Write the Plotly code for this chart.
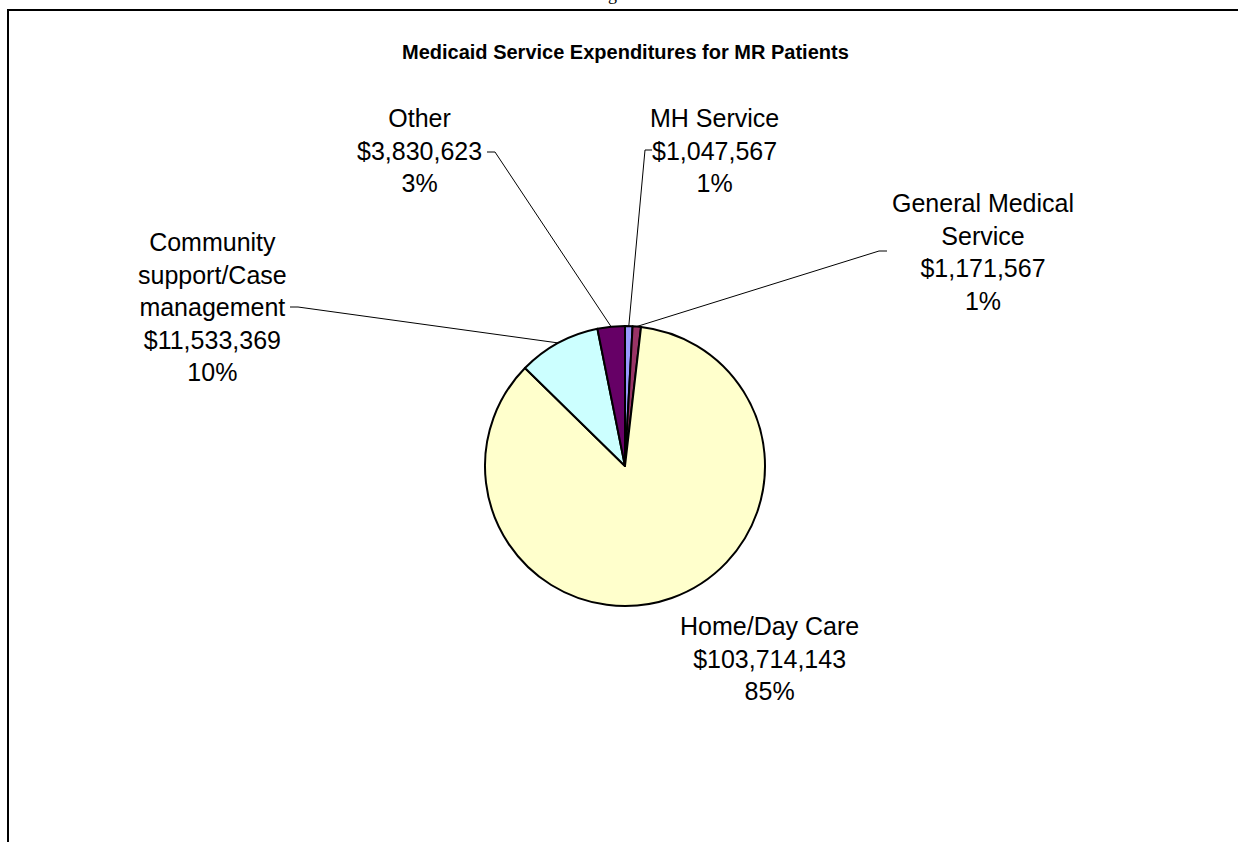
import math
import plotly.graph_objects as go

# ---- data ----
categories = ["MH Service", "General Medical Service", "Home/Day Care",
              "Community support/Case management", "Other"]
label_texts = ["MH Service", "General Medical<br>Service", "Home/Day Care",
               "Community<br>support/Case<br>management", "Other"]
values = [1047567, 1171567, 103714143, 11533369, 3830623]
percent_labels = ["1%", "1%", "85%", "10%", "3%"]
colors = ["#9999FF", "#993366", "#FFFFCC", "#CCFFFF", "#660066"]
title_text = "Medicaid Service Expenditures for MR Patients"

W, H = 1238, 842
CX, CY, R = 625, 466, 140  # pie centre / radius in px


def px(x):
    return x / W


def py(y):
    return 1 - y / H


total = sum(values)
pct = [v / total for v in values]

fig = go.Figure(go.Pie(
    labels=categories, values=values, sort=False, direction="clockwise",
    rotation=0, textinfo="none", hoverinfo="label+value+percent",
    marker=dict(colors=colors, line=dict(color="black", width=2)),
    domain=dict(x=[px(CX - R), px(CX + R)], y=[py(CY + R), py(CY - R)]),
    showlegend=False,
))

# label layout: (centre x, centre y, leader start, leader tick end) in px
label_layout = [
    (714, 150, (652, 150), (645, 150)),
    (983, 252, (887, 251), (879, 251)),
    (769, 658, None, None),
    (212, 307, (290, 307), (298, 307)),
    (419, 150, (487, 152), (495, 152)),
]

annotations = []
shapes = []
cum = 0.0
for i, v in enumerate(values):
    mid = cum + pct[i] / 2
    cum += pct[i]
    theta = mid * 2 * math.pi
    ex = CX + R * math.sin(theta)
    ey = CY - R * math.cos(theta)
    lx, ly, p0, p1 = label_layout[i]
    text = f"{label_texts[i]}<br>${v:,.0f}<br>{percent_labels[i]}"
    annotations.append(dict(
        x=px(lx), y=py(ly), xref="paper", yref="paper", text=text,
        showarrow=False, xanchor="center", yanchor="middle", align="center",
        font=dict(family="Liberation Sans, Arial", size=25, color="black"),
    ))
    if p0 is not None:
        path = (f"M {px(p0[0])},{py(p0[1])} L {px(p1[0])},{py(p1[1])} "
                f"L {px(ex)},{py(ey)}")
        shapes.append(dict(type="path", xref="paper", yref="paper", path=path,
                           line=dict(color="black", width=1)))

# title
annotations.append(dict(
    x=px(625), y=py(52), xref="paper", yref="paper",
    text=f"<b>{title_text}</b>", showarrow=False,
    xanchor="center", yanchor="middle",
    font=dict(family="Liberation Sans, Arial", size=20, color="black"),
))
# cropped document caption above frame
annotations.append(dict(
    x=px(591), y=py(6), xref="paper", yref="paper", text="Figure",
    showarrow=False, xanchor="left", yanchor="bottom",
    font=dict(family="Liberation Serif, Times New Roman", size=18, color="black"),
))

# chart frame
shapes.append(dict(type="rect", xref="paper", yref="paper",
                   x0=px(8), y0=py(900), x1=px(1300), y1=py(10),
                   line=dict(color="black", width=2), fillcolor="rgba(0,0,0,0)"))

fig.update_layout(
    width=W, height=H, margin=dict(l=0, r=0, t=0, b=0),
    paper_bgcolor="white", plot_bgcolor="white",
    annotations=annotations, shapes=shapes,
)

fig.write_html(
    "out.html",
    config={"displayModeBar": False},
    post_script="document.body.style.margin='0';"
                "document.body.style.overflow='hidden';",
)
